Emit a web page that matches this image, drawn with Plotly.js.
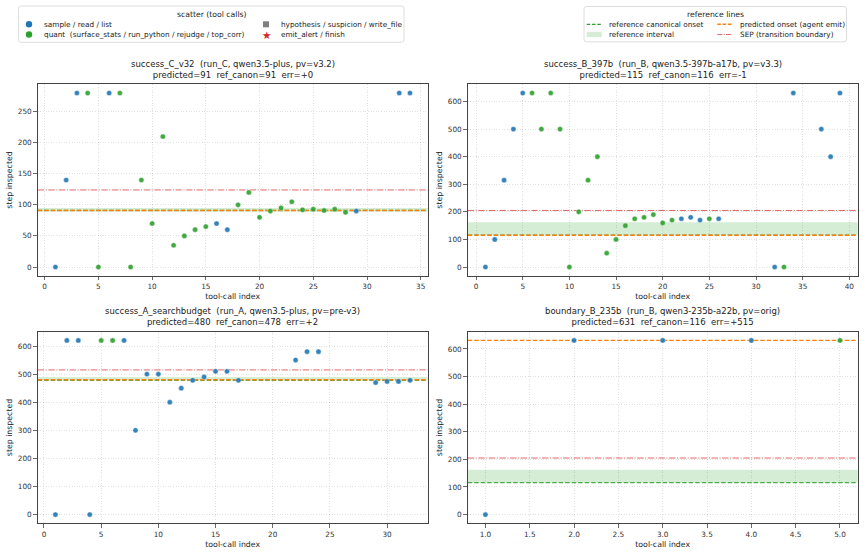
<!DOCTYPE html>
<html>
<head>
<meta charset="utf-8">
<script src="https://cdn.plot.ly/plotly-3.0.1.min.js"></script>
<style>
  html, body { margin: 0; padding: 0; background: #fff; }
  #chart { width: 865px; height: 553px; }
</style>
</head>
<body>
<div id="chart"></div>
<script>
// ---- tool-call traces per run: index, step inspected, kind (s = sample/read/list, q = quant) ----
const cIdx  = [1, 2, 3, 4, 5, 6, 7, 8, 9, 10, 11, 12, 13, 14, 15, 16, 17, 18, 19, 20, 21, 22, 23, 24, 25, 26, 27, 28, 29, 33, 34];
const cStep = [0, 140, 280, 280, 0, 280, 280, 0, 140, 70, 210, 35, 50, 60, 65, 70, 60, 100, 120, 80, 90, 95, 105, 92, 93, 91, 93, 88, 90, 280, 280];
const cKind = ['s','s','s','q','q','s','q','q','q','q','q','q','q','q','q','s','s','q','q','q','q','q','q','q','q','q','q','q','s','s','s'];

const bIdx  = [1, 2, 3, 4, 5, 6, 7, 8, 9, 10, 11, 12, 13, 14, 15, 16, 17, 18, 19, 20, 21, 22, 23, 24, 25, 26, 32, 33, 34, 37, 38, 39];
const bStep = [0, 100, 315, 500, 631, 631, 500, 631, 500, 0, 200, 315, 400, 50, 100, 150, 175, 180, 190, 160, 170, 175, 180, 170, 175, 175, 0, 0, 631, 500, 400, 631];
const bKind = ['s','s','s','s','s','q','q','q','q','q','q','q','q','q','q','q','q','q','q','q','q','s','s','s','q','s','s','q','s','s','s','s'];

const aIdx  = [1, 2, 3, 4, 5, 6, 7, 8, 9, 10, 11, 12, 13, 14, 15, 16, 17, 22, 23, 24, 29, 30, 31, 32];
const aStep = [0, 620, 620, 0, 620, 620, 620, 300, 500, 500, 400, 450, 478, 490, 510, 510, 478, 550, 580, 580, 470, 474, 474, 478];
const aKind = ['s','s','s','s','q','q','s','s','s','s','s','s','s','s','s','s','s','s','s','s','s','s','s','s'];

const dIdx  = [1, 2, 3, 4, 5];
const dStep = [0, 631, 631, 631, 631];
const dKind = ['s','s','s','s','q'];

// ---- per-run summary ----
const panelIds   = ['success_C_v32', 'success_B_397b', 'success_A_searchbudget', 'boundary_B_235b'];
const panelMeta  = ['run_C, qwen3.5-plus, pv=v3.2', 'run_B, qwen3.5-397b-a17b, pv=v3.3', 'run_A, qwen3.5-plus, pv=pre-v3', 'run_B, qwen3-235b-a22b, pv=orig'];
const predicted  = [91, 115, 480, 631];
const refCanon   = [91, 116, 478, 116];
const refLo      = [89, 116, 478, 116];
const refHi      = [95, 162, 490, 162];
const sepStep    = [124, 205, 515, 205];
const xTickStep  = [5, 5, 5, 0.5];
const yTickStep  = [50, 100, 100, 100];

const runs = [
  {idx: cIdx, step: cStep, kind: cKind},
  {idx: bIdx, step: bStep, kind: bKind},
  {idx: aIdx, step: aStep, kind: aKind},
  {idx: dIdx, step: dStep, kind: dKind}
];

// ---- styling ----
const W = 865, H = 553;
const PX = x => x / W;
const PY = y => 1 - y / H;
const FONT = 'DejaVu Sans, Liberation Sans, sans-serif';
const BLUE = '#1f77b4', GREEN = '#2ca02c', ORANGE = '#ff7f0e', RED = '#d62728';
const SEP_COLOR = 'rgba(214,39,40,0.7)';
const BAND_FILL = 'rgba(44,160,44,0.2)';
const DASH = '4.5px,2px';
const DASHDOT = '6.4px,1.6px,1px,1.6px';

// panel frames in pixels: [left, right, top, bottom]
const frames = [
  [37.7, 427.7, 84.3, 275.7],
  [467.7, 857.7, 84.3, 275.7],
  [37.7, 427.7, 331.7, 523.3],
  [467.7, 857.7, 331.7, 523.3]
];

const axBase = {
  showline: true, mirror: true, linecolor: '#444', linewidth: 1,
  ticks: 'outside', ticklen: 3.5, tickwidth: 0.8, tickcolor: '#444',
  tickfont: {size: 7.3, color: '#333', family: FONT},
  showgrid: true, gridcolor: 'rgba(0,0,0,0.16)', griddash: '1px,1.6px', gridwidth: 0.7,
  zeroline: false, automargin: false, fixedrange: true
};

function padRange(lo, hi) {
  const span = hi - lo;
  return [lo - 0.05 * span, hi + 0.05 * span];
}

const traces = [];
const shapes = [];
const annotations = [];
const layout = {
  width: W, height: H,
  margin: {l: 0, r: 0, t: 0, b: 0},
  paper_bgcolor: '#fff', plot_bgcolor: '#fff',
  font: {family: FONT, color: '#222'},
  showlegend: false
};

runs.forEach((run, i) => {
  const n = i + 1;
  const xa = n === 1 ? 'x' : 'x' + n;
  const ya = n === 1 ? 'y' : 'y' + n;
  const xKey = n === 1 ? 'xaxis' : 'xaxis' + n;
  const yKey = n === 1 ? 'yaxis' : 'yaxis' + n;
  const [l, r, t, b] = frames[i];

  // scatter by kind
  [['s', BLUE], ['q', GREEN]].forEach(([k, col]) => {
    const xs = [], ys = [];
    run.idx.forEach((v, j) => { if (run.kind[j] === k) { xs.push(v); ys.push(run.step[j]); } });
    traces.push({
      type: 'scatter', mode: 'markers', x: xs, y: ys, xaxis: xa, yaxis: ya,
      marker: {color: col, size: 5.2, opacity: 0.9, line: {color: '#fff', width: 0.4}},
      hoverinfo: 'x+y', showlegend: false
    });
  });

  // reference lines
  const dom = xa + ' domain';
  shapes.push({type: 'rect', xref: dom, yref: ya, x0: 0, x1: 1, y0: refLo[i], y1: refHi[i],
               fillcolor: BAND_FILL, line: {width: 0}, layer: 'below'});
  shapes.push({type: 'line', xref: dom, yref: ya, x0: 0, x1: 1, y0: refCanon[i], y1: refCanon[i],
               line: {color: GREEN, width: 1.2, dash: DASH}, opacity: 0.85, layer: 'below'});
  shapes.push({type: 'line', xref: dom, yref: ya, x0: 0, x1: 1, y0: predicted[i], y1: predicted[i],
               line: {color: ORANGE, width: 1.4, dash: DASH}, layer: 'below'});
  shapes.push({type: 'line', xref: dom, yref: ya, x0: 0, x1: 1, y0: sepStep[i], y1: sepStep[i],
               line: {color: SEP_COLOR, width: 1, dash: DASHDOT}, layer: 'below'});

  // axis ranges following data + reference lines
  const xMin = Math.min(...run.idx), xMax = Math.max(...run.idx);
  const allY = run.step.concat([predicted[i], refCanon[i], refLo[i], refHi[i], sepStep[i]]);
  const yMin = Math.min(...allY), yMax = Math.max(...allY);

  layout[xKey] = Object.assign({}, axBase, {
    domain: [PX(l), PX(r)], anchor: ya, range: padRange(xMin, xMax),
    dtick: xTickStep[i], tick0: 0, tickformat: xTickStep[i] < 1 ? '.1f' : 'd',
    title: {text: 'tool-call index', font: {size: 7.8, color: '#222'}, standoff: 3}
  });
  layout[yKey] = Object.assign({}, axBase, {
    domain: [PY(b), PY(t)], anchor: xa, range: padRange(yMin, yMax),
    dtick: yTickStep[i], tick0: 0,
    title: {text: 'step inspected', font: {size: 7.8, color: '#222'}, standoff: 4}
  });

  const err = predicted[i] - refCanon[i];
  const errTxt = (err >= 0 ? '+' : '') + err;
  const sp = '\u00a0\u00a0';
  annotations.push({
    xref: 'paper', yref: 'paper', x: PX((l + r) / 2), y: PY(t - 2.5),
    xanchor: 'center', yanchor: 'bottom', showarrow: false, align: 'center',
    text: panelIds[i] + sp + '(' + panelMeta[i] + ')<br>' +
          'predicted=' + predicted[i] + sp + 'ref_canon=' + refCanon[i] + sp + 'err=' + errTxt,
    font: {size: 8.5, color: '#222'}
  });
});

// ---- legend boxes ----
function legendBox(x0, x1, y0, y1) {
  // rounded frame, radius in pixels converted to paper units
  const rx = 2.5 / W, ry = 2.5 / H;
  const a = PX(x0), c = PX(x1), top = PY(y0), bot = PY(y1);
  const path = `M ${a + rx},${top} L ${c - rx},${top} Q ${c},${top} ${c},${top - ry} ` +
               `L ${c},${bot + ry} Q ${c},${bot} ${c - rx},${bot} L ${a + rx},${bot} ` +
               `Q ${a},${bot} ${a},${bot + ry} L ${a},${top - ry} Q ${a},${top} ${a + rx},${top} Z`;
  shapes.push({type: 'path', xref: 'paper', yref: 'paper', path: path,
               fillcolor: 'rgba(255,255,255,0.8)', line: {color: '#d4d4d4', width: 0.8}, layer: 'above'});
}
function legendText(x, y, txt, size) {
  annotations.push({xref: 'paper', yref: 'paper', x: PX(x), y: PY(y), xanchor: 'left', yanchor: 'middle',
                    showarrow: false, text: txt, font: {size: size || 7.3, color: '#222'}});
}
function legendTitle(x, y, txt) {
  annotations.push({xref: 'paper', yref: 'paper', x: PX(x), y: PY(y), xanchor: 'center', yanchor: 'middle',
                    showarrow: false, text: txt, font: {size: 7.7, color: '#222'}});
}
function legendLine(x0, x1, y, color, width, dash) {
  shapes.push({type: 'line', xref: 'paper', yref: 'paper', x0: PX(x0), x1: PX(x1), y0: PY(y), y1: PY(y),
               line: {color: color, width: width, dash: dash}, layer: 'above'});
}

const row1 = 24.3, row2 = 34.5;

// scatter (tool calls)
legendBox(18.5, 404, 6, 42.3);
legendTitle(211.5, 14.3, 'scatter (tool calls)');
shapes.push({type: 'circle', xref: 'paper', yref: 'paper', x0: PX(25.8), x1: PX(32.2), y0: PY(row1 + 3.2), y1: PY(row1 - 3.2),
             fillcolor: BLUE, line: {width: 0}, layer: 'above'});
shapes.push({type: 'circle', xref: 'paper', yref: 'paper', x0: PX(25.8), x1: PX(32.2), y0: PY(row2 + 3.2), y1: PY(row2 - 3.2),
             fillcolor: GREEN, line: {width: 0}, layer: 'above'});
legendText(42.3, row1, 'sample / read / list');
legendText(42.3, row2, 'quant\u00a0\u00a0(surface_stats / run_python / rejudge / top_corr)');
shapes.push({type: 'rect', xref: 'paper', yref: 'paper', x0: PX(263), x1: PX(269), y0: PY(row1 + 3), y1: PY(row1 - 3),
             fillcolor: '#7f7f7f', line: {width: 0}, layer: 'above'});
annotations.push({xref: 'paper', yref: 'paper', x: PX(266), y: PY(row2 + 0.3), xanchor: 'center', yanchor: 'middle',
                  showarrow: false, text: '\u2605', font: {size: 10.5, color: RED}});
legendText(279.3, row1, 'hypothesis / suspicion / write_file');
legendText(279.3, row2, 'emit_alert / finish');

// reference lines
legendBox(584, 846.5, 6.5, 41.8);
legendTitle(715, 14.3, 'reference lines');
legendLine(586.7, 601.7, row1, GREEN, 1.2, '3.5px,1.8px');
shapes.push({type: 'rect', xref: 'paper', yref: 'paper', x0: PX(586.7), x1: PX(601.7), y0: PY(row2 + 2.6), y1: PY(row2 - 2.6),
             fillcolor: BAND_FILL, line: {width: 0}, layer: 'above'});
legendText(607.3, row1, 'reference canonical onset');
legendText(607.3, row2, 'reference interval');
legendLine(717.3, 732.3, row1, ORANGE, 1.4, '3.5px,1.8px');
legendLine(717.3, 732.3, row2, SEP_COLOR, 1, '5px,1.4px,1px,1.4px');
legendText(737.7, row1, 'predicted onset (agent emit)');
legendText(737.7, row2, 'SEP (transition boundary)');

layout.shapes = shapes;
layout.annotations = annotations;

Plotly.newPlot('chart', traces, layout, {displayModeBar: false, staticPlot: true});
</script>
</body>
</html>
